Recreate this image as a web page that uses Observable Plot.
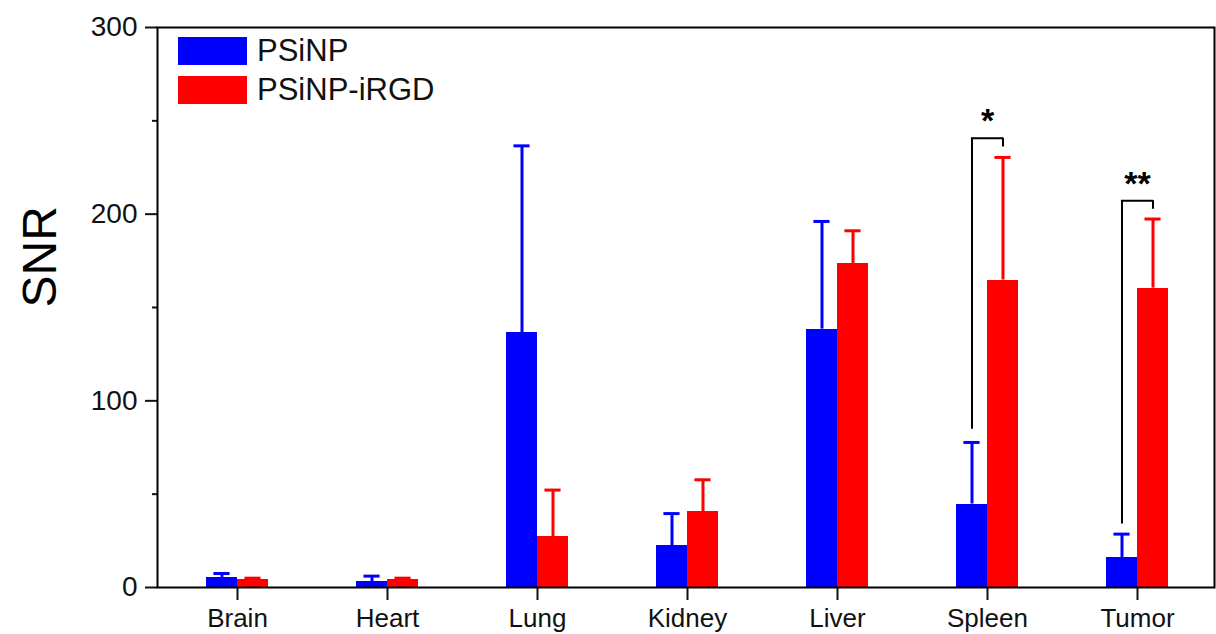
<!DOCTYPE html>
<html><head><meta charset="utf-8">
<script src="https://cdn.jsdelivr.net/npm/d3@7"></script>
<script src="https://cdn.jsdelivr.net/npm/@observablehq/plot@0.6"></script>
<style>
body{margin:0;background:#fff;font-family:"Liberation Sans",Arial,sans-serif;}
#wrap{position:relative;width:1216px;height:634px;}
#legend{position:absolute;left:178px;top:37px;}
.lrow{display:flex;align-items:center;height:28px;margin-bottom:11px;}
.lsw{width:69px;height:28px;margin-right:10px;}
.ltx{font-size:31px;color:#111;line-height:28px;}
</style></head><body><div id="wrap"></div>
<script>
const categories = ["Brain","Heart","Lung","Kidney","Liver","Spleen","Tumor"];
const series = ["PSiNP","PSiNP-iRGD"];
const colors = ["#0000ff","#ff0000"];
const psinpMean = [5.4, 3.2, 136.6, 22.3, 138.4, 44.7, 16.1];
const psinpSD   = [2.1, 2.9, 100.0, 17.3, 57.7, 33.0, 12.5];
const irgdMean  = [4.5, 4.5, 27.2, 40.5, 173.6, 164.7, 160.4];
const irgdSD    = [0.5, 0.5, 25.0, 17.2, 17.5, 65.7, 37.0];
const sigCategory = ["Spleen","Tumor"];
const sigLabel = ["*","**"];
const sigTop = [240.7, 207.2];
const sigLeftLow = [84.8, 34];
const sigRightLow = [236, 202.7];
const yTicks = [0,100,200,300];
const yMinorTicks = [50,150,250];

const blue = categories.map((c,i)=>({category:c, series:series[0], mean:psinpMean[i], sd:psinpSD[i]}));
const red  = categories.map((c,i)=>({category:c, series:series[1], mean:irgdMean[i], sd:irgdSD[i]}));
const sig = sigCategory.map((c,i)=>({category:c, label:sigLabel[i], top:sigTop[i], leftLow:sigLeftLow[i], rightLow:sigRightLow[i]}));

const W=1216, H=634, mL=157, mR=2, mT=27, mB=47;
const xRange=[158.5,1214.5];
const step=(xRange[1]-xRange[0])/categories.length;
const half=step/2, barW=31, capW=17;

const chart = Plot.plot({
  width:W, height:H, marginLeft:mL, marginRight:mR, marginTop:mT, marginBottom:mB,
  style:{fontFamily:"Liberation Sans, Arial, sans-serif", color:"#111", background:"#fff", overflow:"visible"},
  x:{type:"band", domain:categories, range:xRange, padding:0},
  y:{domain:[0,300]},
  marks:[
    Plot.barY(blue,{x:"category", y:"mean", fill:colors[0], insetLeft:half-barW, insetRight:half, shapeRendering:"crispEdges"}),
    Plot.barY(red,{x:"category", y:"mean", fill:colors[1], insetLeft:half, insetRight:half-barW, shapeRendering:"crispEdges"}),
    Plot.ruleX(blue,{x:"category", y1:"mean", y2:d=>d.mean+d.sd, stroke:colors[0], strokeWidth:3, dx:-barW/2}),
    Plot.ruleX(red,{x:"category", y1:"mean", y2:d=>d.mean+d.sd, stroke:colors[1], strokeWidth:3, dx:barW/2}),
    Plot.tickY(blue,{x:"category", y:d=>d.mean+d.sd, stroke:colors[0], strokeWidth:3, insetLeft:half-capW/2, insetRight:half-capW/2, dx:-barW/2}),
    Plot.tickY(red,{x:"category", y:d=>d.mean+d.sd, stroke:colors[1], strokeWidth:3, insetLeft:half-capW/2, insetRight:half-capW/2, dx:barW/2}),
    Plot.ruleX(sig,{x:"category", y1:"leftLow", y2:"top", stroke:"#000", strokeWidth:2, dx:-barW/2}),
    Plot.ruleX(sig,{x:"category", y1:"rightLow", y2:"top", stroke:"#000", strokeWidth:2, dx:barW/2}),
    Plot.tickY(sig,{x:"category", y:"top", stroke:"#000", strokeWidth:2, insetLeft:half-barW/2-1, insetRight:half-barW/2-1}),
    Plot.text(sig,{x:"category", y:"top", text:"label", fontSize:34, fontWeight:"bold", fill:"#000", dy:-6, lineAnchor:"bottom"}),
    Plot.axisY({ticks:yTicks, tickSize:12, tickPadding:8, fontSize:28, strokeWidth:2, label:null, tickFormat:d=>String(d)}),
    Plot.axisY({ticks:yMinorTicks, tickSize:5, strokeWidth:2, label:null, tickFormat:()=>""}),
    Plot.axisX({tickSize:13, tickPadding:8, fontSize:26, strokeWidth:2, label:null}),
    Plot.frame({stroke:"#000", strokeWidth:2}),
    Plot.text(["SNR"],{frameAnchor:"left", text:d=>d, rotate:-90, dx:-117, fontSize:48, fill:"#000"})
  ]
});
const wrap=document.getElementById("wrap");
wrap.appendChild(chart);
const lg=d3.select(wrap).append("div").attr("id","legend");
series.forEach((s,i)=>{
  const row=lg.append("div").attr("class","lrow");
  row.append("div").attr("class","lsw").style("background",colors[i]);
  row.append("div").attr("class","ltx").text(s);
});
</script></body></html>
